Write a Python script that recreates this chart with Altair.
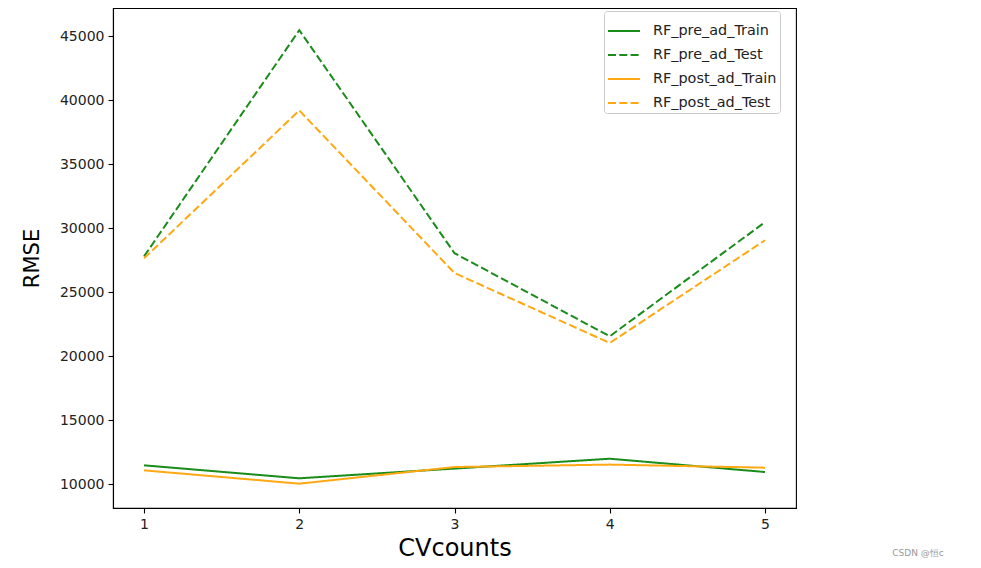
import altair as alt
import pandas as pd

cv_counts = [1, 2, 3, 4, 5]
series_names = ["RF_pre_ad_Train", "RF_pre_ad_Test", "RF_post_ad_Train", "RF_post_ad_Test"]
pre_train = [11480, 10470, 11230, 12000, 10960]
pre_test = [27800, 45470, 28050, 21560, 30470]
post_train = [11090, 10050, 11350, 11540, 11300]
post_test = [27650, 39200, 26500, 21040, 29060]
y_ticks = [10000, 15000, 20000, 25000, 30000, 35000, 40000, 45000]

rows = []
for name, vals in zip(series_names, [pre_train, pre_test, post_train, post_test]):
    for c, v in zip(cv_counts, vals):
        rows.append({"CVcounts": c, "RMSE": v, "series": name})
df = pd.DataFrame(rows)

FONT = "DejaVu Sans"
GREEN = "#1a8c1a"
ORANGE = "#ffa812"

legend_cfg = dict(title=None, orient="none", legendX=491, legendY=3)

lines = alt.Chart(df).mark_line(strokeWidth=2, clip=True).encode(
    x=alt.X("CVcounts:Q",
            scale=alt.Scale(domain=[0.8, 5.2], nice=False, zero=False),
            axis=alt.Axis(values=cv_counts, format="d", title="CVcounts")),
    y=alt.Y("RMSE:Q",
            scale=alt.Scale(domain=[8150, 47200], nice=False, zero=False),
            axis=alt.Axis(values=y_ticks, format="d", title="RMSE")),
    color=alt.Color("series:N",
                    scale=alt.Scale(domain=series_names,
                                    range=[GREEN, GREEN, ORANGE, ORANGE]),
                    legend=alt.Legend(**legend_cfg)),
    strokeDash=alt.StrokeDash("series:N",
                              scale=alt.Scale(domain=series_names,
                                              range=[[1, 0], [8, 3.3], [1, 0], [8, 3.3]]),
                              legend=alt.Legend(**legend_cfg)),
    detail="series:N",
)

watermark = alt.Chart(pd.DataFrame({"t": ["CSDN @恒c"]})).mark_text(
    fontSize=9, color="#999999", font=FONT, align="center", baseline="middle"
).encode(text="t:N", x=alt.value(805), y=alt.value(545))

chart = alt.layer(lines, watermark).properties(
    width=683, height=500,
    autosize=alt.AutoSizeParams(type="none"),
    padding={"left": 105, "top": 0, "right": 170, "bottom": 52},
).configure_view(
    stroke="black", strokeWidth=1.1
).configure_axis(
    grid=False,
    domainColor="black",
    domainWidth=1.1,
    tickColor="black",
    tickSize=5,
    tickWidth=1.1,
    labelFont=FONT,
    labelFontSize=14,
    labelColor="#222222",
    labelPadding=4,
    titleFont=FONT,
    titleFontWeight="normal",
    titleColor="black",
).configure_axisX(
    titleFontSize=24,
    titlePadding=5,
).configure_axisY(
    titleFontSize=21,
    titlePadding=17,
).configure_legend(
    padding=3,
    strokeColor="#cccccc",
    fillColor="white",
    cornerRadius=3,
    labelFont=FONT,
    labelFontSize=14.4,
    labelColor="#222222",
    symbolType="stroke",
    symbolSize=1024,
    symbolStrokeWidth=2,
    rowPadding=-1.5,
    labelOffset=12,
)

chart.save("out.html", embed_options={"renderer": "svg", "actions": False})
